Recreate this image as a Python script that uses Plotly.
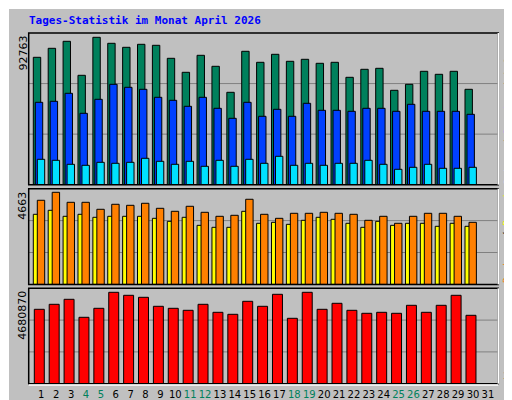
import plotly.graph_objects as go

days = list(range(1, 31))
hits = [80173, 85837, 90242, 68845, 92763, 88983, 86466, 88354, 87724, 79544, 70733, 81431, 74509, 58147, 83949,
        77026, 82061, 77656, 78914, 76397, 77026, 67587, 72621, 73251, 59406, 63182, 71363, 69475, 71363, 60035]
files = [51854, 52484, 57518, 44932, 53742, 63182, 61294, 60035, 55001, 53113, 49337, 55001, 48079, 41786, 51854,
         43044, 47449, 43044, 51225, 46820, 46820, 46191, 48079, 48079, 46191, 50596, 46191, 46191, 46191, 44303]
pages = [15984, 15355, 12838, 12208, 14096, 13467, 14096, 16614, 14726, 12838, 14726, 11579, 15355, 11579, 15984,
         13467, 17872, 12208, 13467, 12208, 13467, 13467, 15355, 12838, 9691, 10950, 12838, 10321, 10321, 10950]
visits = [4259, 4663, 4157, 4157, 3803, 4056, 4005, 4107, 3853, 3701, 3955, 3650, 3448, 3498, 4310,
          3549, 3346, 3600, 3600, 3650, 3600, 3549, 3245, 3448, 3093, 3448, 3600, 3600, 3448, 3143]
sites = [3549, 3752, 3448, 3549, 3397, 3448, 3448, 3448, 3346, 3194, 3397, 2991, 2890, 2890, 3701,
         3093, 3143, 3042, 3245, 3397, 3296, 3093, 2890, 3194, 2991, 3093, 3093, 2941, 3093, 2941]
kbytes = [3810247, 4066312, 4322377, 3400543, 3861460, 4680870, 4527230, 4424800, 3963886, 3861460, 3759034,
          4066312, 3656608, 3554182, 4219951, 3963886, 4578442, 3349330, 4680870, 3810247, 4117525, 3759034,
          3605395, 3656608, 3605395, 4015099, 3656608, 4015099, 4527230, 3502969]
tick_days = list(range(1, 32))
weekend = [4, 5, 11, 12, 18, 19, 25, 26]

W, H = 512, 400
def px(x): return x / W
def py(y): return 1 - y / H

panels = [(25.0, 176.7), (180.7, 276.4), (280.3, 375.7)]
X0, X1 = 20.7, 490.3
xr = [0.153, 31.70]
ranges = [max(hits) * 151.7 / 147.4, max(visits) * 95.6 / 92.0, max(kbytes) * 95.4 / 91.4]
maxlabels = [max(hits), max(visits), max(kbytes)]

fig = go.Figure()
def bar(y, color, offset, width, ax):
    fig.add_trace(go.Bar(x=days, y=y, marker=dict(color=color, line=dict(color="black", width=1)),
                         offset=offset, width=width, xaxis="x" + ax, yaxis="y" + ax, hoverinfo="skip"))

bar(hits, "#00805c", -0.537, 0.497, "")
bar(files, "#0040ff", -0.403, 0.497, "")
bar(pages, "#00e0ff", -0.269, 0.497, "")
bar(sites, "#ffff00", -0.537, 0.497, "2")
bar(visits, "#ff8000", -0.269, 0.497, "2")
bar(kbytes, "#ff0000", -0.47, 0.67, "3")

ticktext = [f'<span style="color:{"#00805c" if d in weekend else "black"}">{d}</span>' for d in tick_days]
layout = dict(width=W, height=H, margin=dict(l=0, r=0, t=0, b=0), paper_bgcolor="#c0c0c0",
              plot_bgcolor="#c0c0c0", barmode="overlay", showlegend=False, shapes=[], annotations=[])
for i, (t, b) in enumerate(panels):
    sfx = "" if i == 0 else str(i + 1)
    last = i == 2
    layout["xaxis" + sfx] = dict(domain=[px(X0), px(X1)], range=xr, anchor="y" + sfx, showgrid=False,
                                 zeroline=False, showticklabels=last, tickvals=tick_days if last else None,
                                 ticktext=ticktext if last else None, ticks="", fixedrange=True,
                                 tickangle=0, ticklabelstandoff=3,
                                 tickfont=dict(family="DejaVu Sans", size=10, color="black"))
    layout["yaxis" + sfx] = dict(domain=[py(b), py(t)], range=[0, ranges[i]], anchor="x" + sfx,
                                 showgrid=False, zeroline=False, showticklabels=False, fixedrange=True)
    yr = "y" + sfx
    for k in (1, 2):
        layout["shapes"].append(dict(type="line", xref="paper", yref=yr, x0=px(X0), x1=px(X1),
                                     y0=ranges[i] * k / 3, y1=ranges[i] * k / 3,
                                     line=dict(color="#808080", width=1), layer="below"))
    layout["shapes"].append(dict(type="rect", xref="paper", yref="paper", x0=px(X0), x1=px(X1),
                                 y0=py(b), y1=py(t), line=dict(color="black", width=1.5)))
    layout["shapes"].append(dict(type="line", xref="paper", yref="paper", x0=px(X1), x1=px(X1),
                                 y0=py(b), y1=py(t), line=dict(color="white", width=1.5)))
    layout["annotations"].append(dict(text=str(maxlabels[i]), xref="paper", yref="paper", x=px(15),
                                      y=py(t + 1), xanchor="center", yanchor="top", textangle=-90,
                                      showarrow=False, font=dict(family="DejaVu Sans", size=11, color="black")))

layout["shapes"].append(dict(type="line", xref="paper", yref="paper", x0=px(X0), x1=px(X1),
                             y0=py(377), y1=py(377), line=dict(color="white", width=1.5)))
layout["shapes"].append(dict(type="rect", xref="paper", yref="paper", x0=px(507), x1=1, y0=0, y1=1,
                             fillcolor="#808080", line=dict(width=0)))
layout["shapes"].append(dict(type="rect", xref="paper", yref="paper", x0=0, x1=1, y0=0, y1=py(396),
                             fillcolor="#808080", line=dict(width=0)))
layout["shapes"].append(dict(type="line", xref="paper", yref="paper", x0=px(0.5), x1=px(0.5), y0=py(396), y1=1,
                             line=dict(color="white", width=1)))
layout["shapes"].append(dict(type="line", xref="paper", yref="paper", x0=0, x1=px(507), y0=py(0.5), y1=py(0.5),
                             line=dict(color="white", width=1)))

mono = "DejaVu Sans Mono"
layout["annotations"].append(dict(text="<b>Tages-Statistik im Monat April 2026</b>", xref="paper", yref="paper",
                                  x=px(19), y=py(13), xanchor="left", yanchor="middle", showarrow=False,
                                  font=dict(family=mono, size=11, color="#0000ff")))
side = [
    ('<span style="color:#00e0ff">Seiten</span> / <span style="color:#0040ff">Dateien</span> / '
     '<span style="color:#00805c">Anfragen</span>', 100),
    ('<span style="color:#ff8000">Rechner</span> / <span style="color:#ffff00">Besuche</span>', 226),
    ('<span style="color:#ff0000">kb</span>', 366),
]
for txt, yc in side:
    layout["annotations"].append(dict(text=txt, xref="paper", yref="paper", x=px(499), y=py(yc),
                                      xanchor="center", yanchor="middle", textangle=-90, showarrow=False,
                                      font=dict(family=mono, size=9.5, color="black")))

fig.update_layout(**layout)
fig.write_html("out.html")
